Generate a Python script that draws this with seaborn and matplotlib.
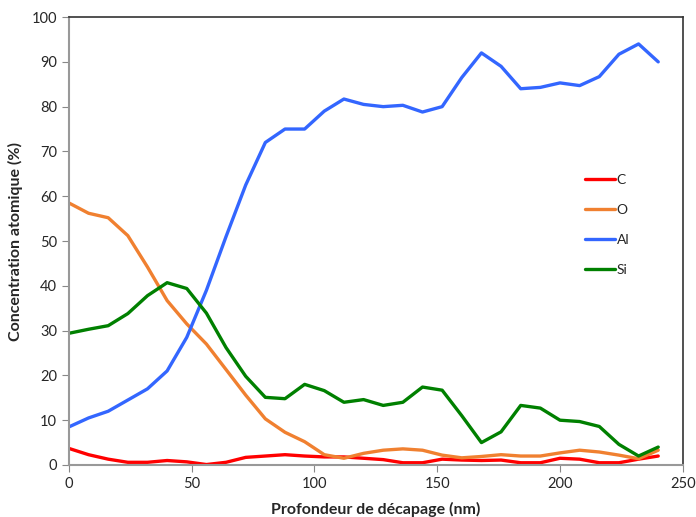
import pandas as pd
import matplotlib
matplotlib.use("Agg")
import matplotlib.pyplot as plt
import seaborn as sns

# profondeur (nm)
depth = list(range(0, 241, 8))

c_vals = [3.7, 2.3, 1.3, 0.6, 0.6, 1.0, 0.7, 0.1, 0.6, 1.7, 2.0, 2.3, 2.0, 1.8, 1.8, 1.5,
          1.2, 0.5, 0.5, 1.3, 1.1, 1.0, 1.1, 0.5, 0.5, 1.5, 1.3, 0.5, 0.5, 1.3, 2.0]
o_vals = [58.5, 56.2, 55.2, 51.2, 44.2, 36.7, 31.5, 27.0, 21.3, 15.6, 10.3, 7.3, 5.2, 2.3, 1.5, 2.6,
          3.3, 3.6, 3.3, 2.2, 1.6, 1.9, 2.3, 2.0, 2.0, 2.7, 3.3, 2.9, 2.2, 1.4, 3.3]
al_vals = [8.5, 10.5, 12.0, 14.5, 17.0, 21.0, 28.5, 39.0, 51.0, 62.5, 72.0, 75.0, 75.0, 79.0, 81.7, 80.5,
           80.0, 80.3, 78.8, 80.0, 86.5, 92.0, 89.0, 84.0, 84.3, 85.3, 84.7, 86.7, 91.7, 94.0, 90.0]
si_vals = [29.4, 30.3, 31.1, 33.8, 37.8, 40.7, 39.4, 33.9, 26.2, 19.8, 15.1, 14.8, 18.0, 16.6, 14.0, 14.6,
           13.3, 14.0, 17.4, 16.7, 11.0, 5.0, 7.4, 13.3, 12.7, 10.0, 9.7, 8.6, 4.6, 2.0, 4.0]

elements = ["C", "O", "Al", "Si"]
couleurs = {"C": "#ff0000", "O": "#f08030", "Al": "#3366ff", "Si": "#008000"}

df = pd.concat([
    pd.DataFrame({"depth": depth, "conc": v, "elem": e})
    for e, v in zip(elements, [c_vals, o_vals, al_vals, si_vals])
])

sns.set_style("white")
plt.rcParams["font.family"] = ["Lato", "DejaVu Sans"]

fig = plt.figure(figsize=(6.96, 5.17), dpi=100)
ax = fig.add_axes([0.099, 0.1006, 0.882, 0.8664])

sns.lineplot(data=df, x="depth", y="conc", hue="elem", hue_order=elements,
             palette=couleurs, linewidth=2.4, ax=ax, sort=False)

ax.set_xlim(0, 250)
ax.set_ylim(0, 100)
ax.set_xticks(range(0, 251, 50))
ax.set_yticks(range(0, 101, 10))
ax.tick_params(axis="both", labelsize=10.5, length=5, direction="out",
               color="#888888", left=True, bottom=True)
for s in ["left", "bottom"]:
    ax.spines[s].set_color("#999999")
    ax.spines[s].set_linewidth(1.5)
for s in ["top", "right"]:
    ax.spines[s].set_color("#333333")
    ax.spines[s].set_linewidth(1.2)

ax.set_xlabel("Profondeur de décapage (nm)", fontsize=11.5, fontweight="bold", labelpad=8)
ax.set_ylabel("Concentration atomique (%)", fontsize=11.5, fontweight="bold", labelpad=6)

leg = ax.legend(loc="upper left", bbox_to_anchor=(0.82, 0.678), frameon=False,
                fontsize=10, handlelength=2.2, handletextpad=0.1, labelspacing=1.3)

fig.savefig("out.png", dpi=100)
